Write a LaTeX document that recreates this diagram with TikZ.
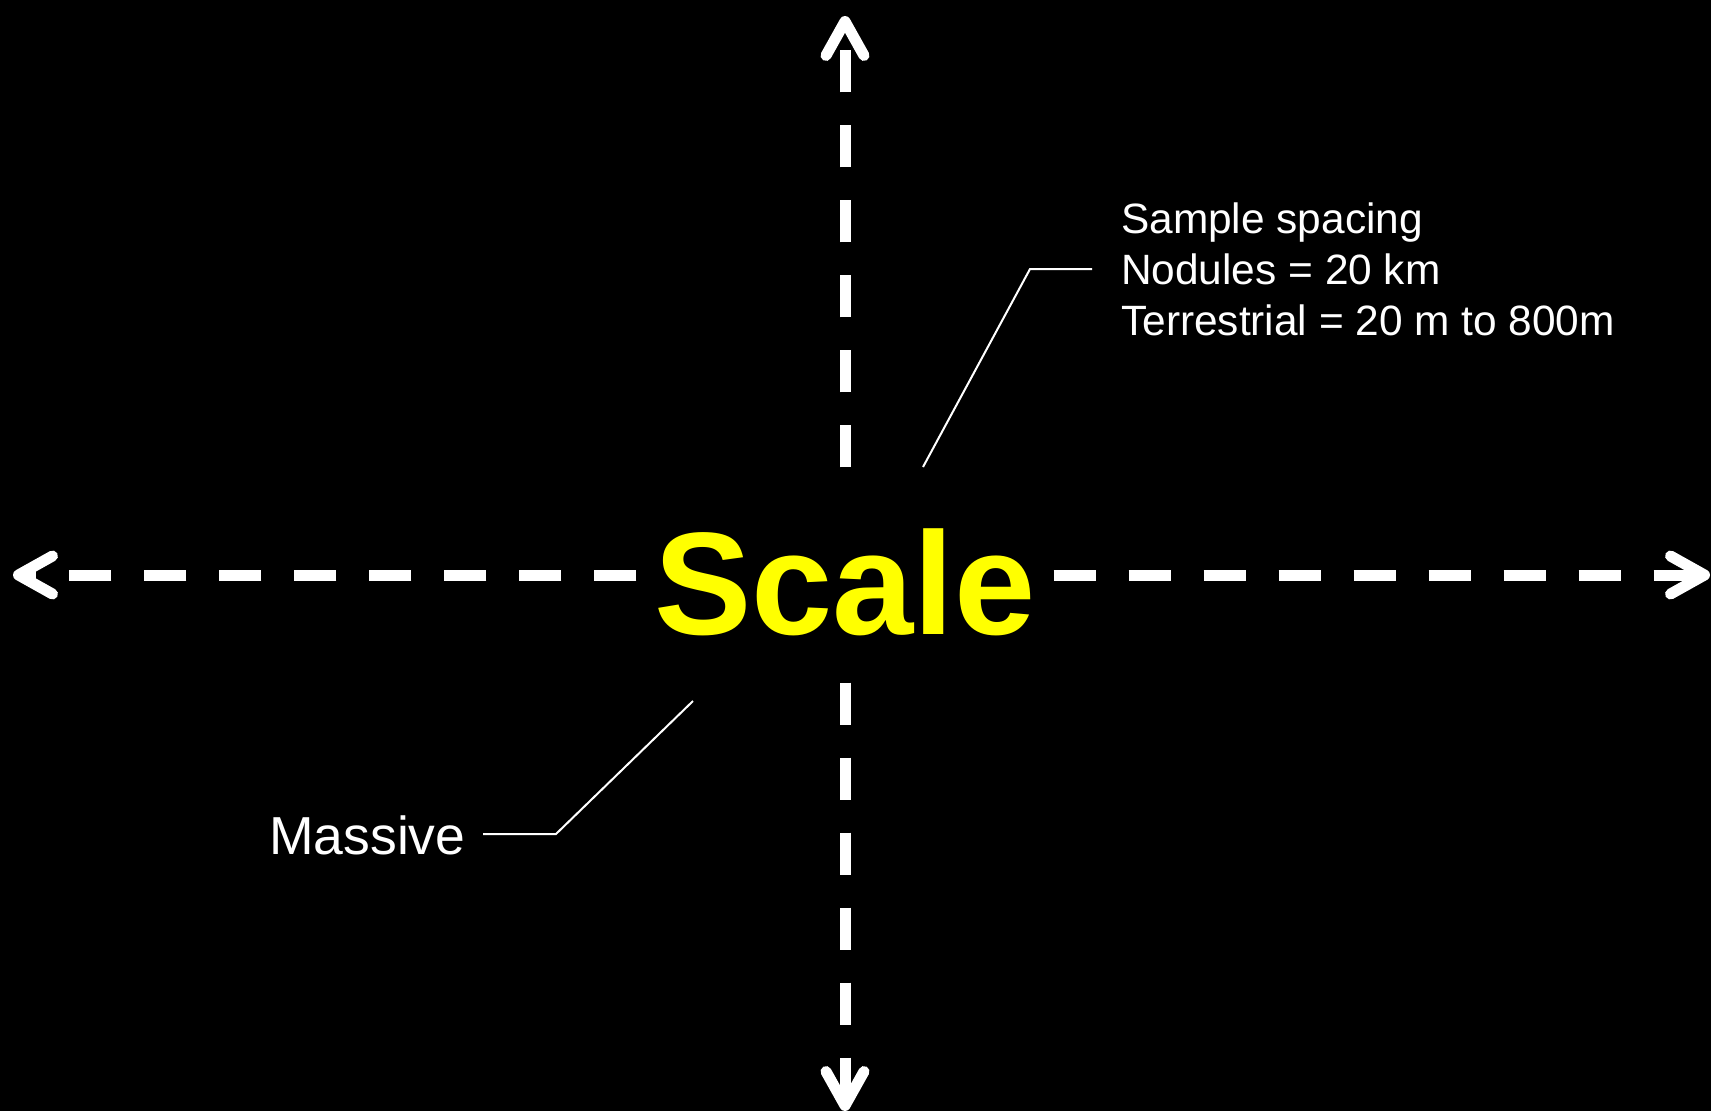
\documentclass[tikz,border=0pt]{standalone}
\usepackage{fontspec}
\setmainfont{Liberation Sans}
\usetikzlibrary{arrows.meta}
\definecolor{scaleyellow}{RGB}{255,255,0}
\tikzset{
  axis/.style={draw=white, line width=11pt, dash pattern=on 42pt off 33pt,
    -{Straight Barb[length=34pt, width=38pt, round]}},
  leader/.style={draw=white, line width=2pt},
  label/.style={text=white, inner sep=0pt},
}
\begin{document}
\begin{tikzpicture}[x=1pt, y=-1pt]
\fill[black] (0,0) rectangle (1711,1111);
\useasboundingbox (0,0) rectangle (1711,1111);
\node[fill=black, inner sep=0pt, minimum width=417pt, minimum height=215pt,
      text height=118pt, text depth=0pt, text=scaleyellow,
      font=\fontsize{146}{170}\selectfont\bfseries] (box) at (845,575) {Scale};
\coordinate (top) at (845,16);
\coordinate (bottom) at (845,1111);
\coordinate (left) at (13,575);
\coordinate (right) at (1710,575);
\draw[axis] (box.north) -- (top);
\draw[axis] (box.south) -- (bottom);
\draw[axis] (box.west) -- (left);
\draw[axis] (box.east) -- (right);
\node[label, anchor=north west, align=left, font=\fontsize{42.4}{51}\selectfont] (spacing) at (1121,203)
  {Sample spacing\\Nodules = 20 km\\Terrestrial = 20 m to 800m};
\node[label, anchor=base west, font=\fontsize{53.5}{60}\selectfont] (massive) at (269,854) {Massive};
\coordinate (u1) at (923,467);
\coordinate (u2) at (1030,269);
\coordinate (u3) at (1092,269);
\draw[leader] (u1) -- (u2) -- (u3);
\coordinate (l1) at (693,701);
\coordinate (l2) at (556,834);
\coordinate (l3) at (483,834);
\draw[leader] (l1) -- (l2) -- (l3);
\end{tikzpicture}
\end{document}
